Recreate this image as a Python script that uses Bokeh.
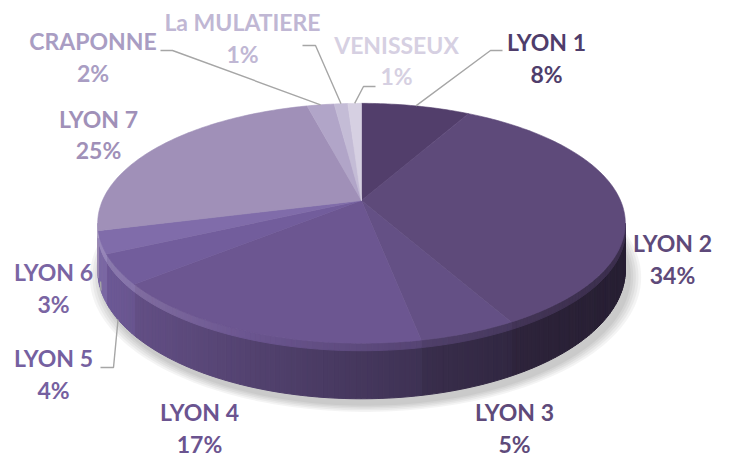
import numpy as np
from bokeh.plotting import figure
from bokeh.models import Range1d, ColumnDataSource
from bokeh.embed import file_html
from bokeh.resources import INLINE
from bokeh.core.properties import value

# ---------------- data ----------------
categories = ["LYON 1", "LYON 2", "LYON 3", "LYON 4", "LYON 5", "LYON 6",
              "LYON 7", "CRAPONNE", "La MULATIERE", "VENISSEUX"]
shares = [8, 34, 5, 17, 4, 3, 25, 2, 1, 1]
pct_labels = [f"{s}%" for s in shares]

# ---------------- styles / layout ----------------
slice_colors = ["#523E6B", "#5E4A7A", "#645085", "#6C5691", "#725D9C",
                "#806CAA", "#A090B8", "#B1A5C8", "#C4BCD6", "#D6D0E2"]
label_colors = ["#4F3D6B", "#5E4A7A", "#5E4A7A", "#6B5490", "#7560A0",
                "#7A65A3", "#A090B8", "#A99DC3", "#C0B7D4", "#D6D0E2"]
label_x = [546, 672, 514, 199, 53, 53, 98, 92.5, 242, 396]
label_y = [43.5, 244.5, 413.5, 413.5, 359.5, 273.5, 120, 42.5, 23.5, 46]
LINE_GAP = 31.5
TEXT_DY = -2.0
# leader lines: (elbow, end) in page pixels; start derived from slice mid-angle
leaders = {0: ((490, 50), (502, 50)),
           9: ((363, 86), (375, 86)),
           8: ((315, 45), (302, 45)),
           7: ((172, 50), (160, 50)),
           4: ((113, 367), (100, 367)),
           5: (None, (100, 281))}
side_start = {4, 5}   # leaders starting from the side of the pie

W, H = 731, 457
CX, CY = 361, 200        # pie centre
A, B, K = 115.6, 259.0, 0.19   # projection parameters
D0 = 45.0                # extrusion depth
FONT = "Lato"
FSIZE = "23px"


def proj(t, depth=0.0):
    t = np.asarray(t, dtype=float)
    u = np.sin(t)
    v = -np.cos(t)
    den = 1 - K * v
    x = CX + B * u / den
    y = CY + A * v / den + depth * D0 / den
    return x, y


def shade(hexcol, f):
    h = hexcol.lstrip("#")
    r, g, b = (int(h[i:i + 2], 16) for i in (0, 2, 4))
    if f <= 1:
        r, g, b = r * f, g * f, b * f
    else:
        a = f - 1
        r, g, b = r + (255 - r) * a, g + (255 - g) * a, b + (255 - b) * a
    return "#%02x%02x%02x" % (int(min(255, r)), int(min(255, g)), int(min(255, b)))


def side_factor(x):
    s = np.clip((625 - x) / 528.0, 0, 1)
    return 0.42 + 0.55 * s ** 1.3


p = figure(width=W, height=H, output_backend="svg", toolbar_location=None,
           x_range=Range1d(0, W), y_range=Range1d(H, 0),
           x_axis_location=None, y_axis_location=None, min_border=0)
p.grid.visible = False
p.outline_line_color = None
p.background_fill_color = "white"
p.border_fill_color = "white"

fr = np.cumsum([0] + shares) / float(sum(shares))
ang = fr * 2 * np.pi

# ---------------- shadow ----------------
tt = np.linspace(0, 2 * np.pi, 240)
bx, by = proj(tt, 1.0)
for i, s in enumerate([1.045, 1.035, 1.025, 1.015, 1.006]):
    sx = CX + 4 + (bx - CX) * s
    sy = CY + 40 + 6 + (by - CY - 40) * s
    p.patch(list(sx), list(sy), fill_color="#000000", fill_alpha=0.045,
            line_color=None)

# ---------------- sides ----------------
T1 = np.arccos(-K)
T2 = 2 * np.pi - T1
sxs, sys, scol, bxs, bys, bcol = [], [], [], [], [], []
step = np.radians(1.0)
BEVEL = 7.0
for i in range(len(shares)):
    a0, a1 = max(ang[i], T1), min(ang[i + 1], T2)
    if a1 <= a0:
        continue
    n = max(1, int(np.ceil((a1 - a0) / step)))
    ts = np.linspace(a0, a1, n + 1)
    for j in range(n):
        tj = np.array([ts[j], ts[j + 1]])
        xt, yt = proj(tj, 0.0)
        xb, yb = proj(tj, 1.0)
        f = side_factor(xt.mean())
        sxs.append([xt[0], xt[1], xb[1], xb[0]])
        sys.append([yt[0] + BEVEL, yt[1] + BEVEL, yb[1], yb[0]])
        scol.append(shade(slice_colors[i], f))
        bxs.append([xt[0], xt[1], xt[1], xt[0]])
        bys.append([yt[0], yt[1], yt[1] + BEVEL + 0.5, yt[0] + BEVEL + 0.5])
        bcol.append(shade(slice_colors[i], f + 0.22))
p.patches("xs", "ys", source=ColumnDataSource(dict(xs=sxs, ys=sys, c=scol)),
          fill_color="c", line_color="c", line_width=1)
p.patches("xs", "ys", source=ColumnDataSource(dict(xs=bxs, ys=bys, c=bcol)),
          fill_color="c", line_color="c", line_width=1)

# ---------------- top faces ----------------
txs, tys = [], []
for i in range(len(shares)):
    n = max(2, int(np.ceil((ang[i + 1] - ang[i]) / step)) + 1)
    ts = np.linspace(ang[i], ang[i + 1], n)
    x, y = proj(ts, 0.0)
    txs.append([CX] + list(x))
    tys.append([CY] + list(y))
p.patches("xs", "ys", source=ColumnDataSource(dict(xs=txs, ys=tys, c=slice_colors)),
          fill_color="c", line_color="c", line_width=0.6)

# ---------------- leader lines ----------------
lxs, lys = [], []
for i, (elbow, end) in leaders.items():
    mid = 0.5 * (ang[i] + ang[i + 1])
    depth = 1.0 if i in side_start else 0.0
    sx, sy = proj(mid, depth)
    pts = [(float(sx), float(sy))]
    if elbow is not None:
        pts.append(elbow)
    pts.append(end)
    lxs.append([q[0] for q in pts])
    lys.append([q[1] for q in pts])
p.multi_line(lxs, lys, line_color="#A6A6A6", line_width=1.4)

# ---------------- labels ----------------
src = ColumnDataSource(dict(x=label_x, y=[v + TEXT_DY for v in label_y],
                            y2=[v + LINE_GAP + TEXT_DY for v in label_y],
                            name=categories, pct=pct_labels, c=label_colors))
for col, yc in (("name", "y"), ("pct", "y2")):
    p.text(x="x", y=yc, text=col, source=src, text_color="c",
           text_font=value(FONT), text_font_style="bold",
           text_font_size=FSIZE, text_align="center", text_baseline="middle")

open("out.html", "w").write(file_html(p, INLINE))
